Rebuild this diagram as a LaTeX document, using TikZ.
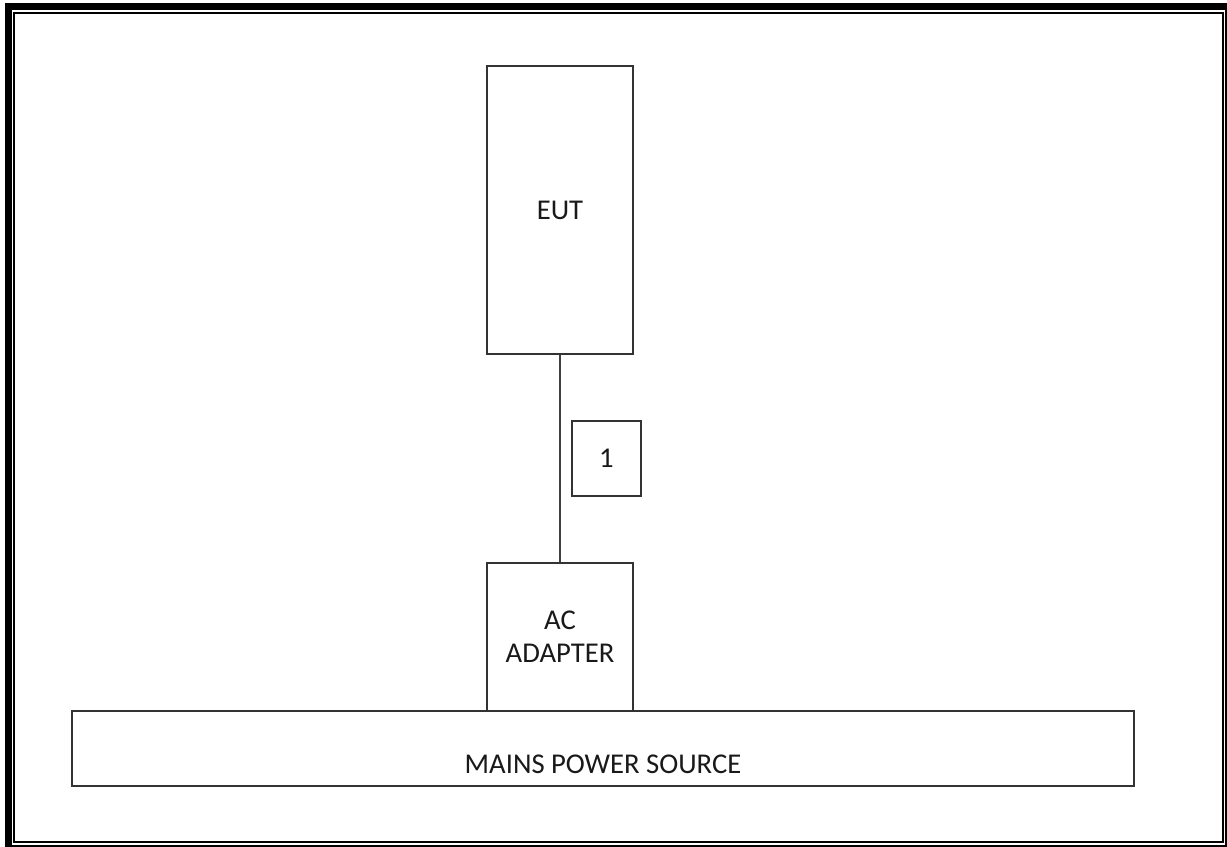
\documentclass[tikz,border=0pt]{standalone}
\usepackage{fontspec}
\setmainfont{Carlito}
\usetikzlibrary{positioning}
\tikzset{
  blk/.style={draw=black!80, line width=1.3pt, align=center, inner sep=0pt, text=black!90},
  tag/.style={blk, minimum width=51.75pt, minimum height=56.25pt},
  wire/.style={draw=black!75, line width=1.3pt}}

\begin{document}
\begin{tikzpicture}[x=0.75pt, y=-0.75pt, font=\fontsize{21.5}{25}\selectfont]
  \useasboundingbox (0,0) rectangle (1227,846);
  \clip (0,0) rectangle (1227,846);
  % page frame
  \draw[line width=5.25pt] (8.5,6.5) rectangle (1228.5,848.2);
  \draw[line width=1.5pt] (14.3,13) rectangle (1222.5,842.3);
  % units
  \node[blk, minimum width=109.5pt, minimum height=216pt] (eut) at (560,210) {EUT};
  \node[blk, minimum width=109.5pt, minimum height=111pt] (ac) at (560,637) {AC\\ADAPTER};
  \node[blk, minimum width=796.5pt, minimum height=56.25pt,
        label={[text=black!90, yshift=-11.5pt]center:MAINS POWER SOURCE}] (mains) at (603,748.5) {};
  \node[tag] (c1) at (606.5,458.5) {1};
  % cable
  \draw[wire] (eut.south) -- (ac.north);
\end{tikzpicture}
\end{document}
